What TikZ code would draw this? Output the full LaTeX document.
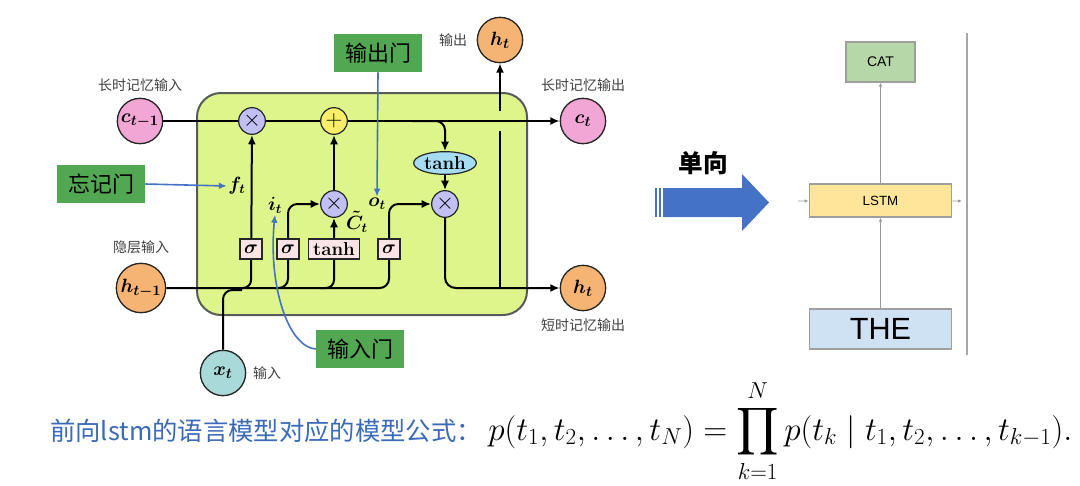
\documentclass[tikz,border=0pt]{standalone}
\usepackage{fontspec}
\usepackage{amsmath}
\newfontfamily\cjk{Noto Sans CJK SC}
\newfontfamily\arialf{Liberation Sans}
\usetikzlibrary{arrows.meta,shapes.geometric,backgrounds}
\definecolor{cellc}{HTML}{DDF58A}
\definecolor{cpink}{HTML}{F2A6D6}
\definecolor{horange}{HTML}{F5B474}
\definecolor{xteal}{HTML}{A9D9D9}
\definecolor{multc}{HTML}{C0C0F5}
\definecolor{plusc}{HTML}{F8EE6A}
\definecolor{tanhc}{HTML}{A5DCF2}
\definecolor{boxc}{HTML}{FBE4E6}
\definecolor{gatec}{HTML}{52A852}
\definecolor{bluec}{HTML}{4472C4}
\definecolor{bluet}{HTML}{3A6AB8}
\definecolor{catc}{HTML}{B6D7A8}
\definecolor{lstmc}{HTML}{FFE599}
\definecolor{thec}{HTML}{CFE2F3}
\begin{document}
\begin{tikzpicture}[x=0.75pt,y=-0.75pt,
  circ/.style={circle, draw=black!85, line width=1pt, minimum size=34pt, inner sep=0pt, font=\fontsize{15}{17}\selectfont\boldmath},
  op/.style={circle, draw=black!85, line width=0.9pt, minimum size=20pt, inner sep=0pt, fill=multc, font=\fontsize{16}{17}\selectfont},
  gatebox/.style={draw=black!85, fill=boxc, line width=0.8pt, minimum height=15pt, minimum width=16.5pt, inner sep=1pt, font=\fontsize{14}{15}\selectfont\bfseries\boldmath},
  wire/.style={line width=1.5pt, draw=black},
  wirea/.style={wire, -{Latex[length=7pt,width=6pt]}},
  cnlabel/.style={font=\cjk\fontsize{10.5}{12}\selectfont, text=black!75},
  gatelabel/.style={fill=gatec, minimum width=66pt, minimum height=28.5pt, inner sep=0pt, font=\cjk\fontsize{16.5}{18}\selectfont},
  blueline/.style={draw=bluec, line width=1.2pt, -{Latex[length=6pt,width=5pt]}},
  mlab/.style={inner sep=1pt, font=\fontsize{14}{16}\selectfont\boldmath},
  gline/.style={draw=gray!80, line width=0.6pt, -{Latex[length=3pt,width=2.5pt]}},
  rbox/.style={draw=gray!75, line width=0.8pt, inner sep=0pt}
]
\useasboundingbox (0,0) rectangle (1080,485);

% nodes of the cell
\node[circ, fill=cpink] (cprev) at (140,121) {$c_{t-1}$};
\node[circ, fill=cpink] (cnext) at (583,121) {$c_t$};
\node[circ, fill=horange, minimum size=37pt] (hprev) at (141,288) {$h_{t-1}$};
\node[circ, fill=horange] (hnext) at (583,288) {$h_t$};
\node[circ, fill=horange] (hout) at (500,40) {$h_t$};
\node[circ, fill=xteal] (xt) at (223,373) {$x_t$};

\node[op] (fmul) at (252,121) {$\times$};
\node[op, fill=plusc] (add) at (334,121) {$+$};
\node[op] (imul) at (334,204) {$\times$};
\node[op] (omul) at (445,204) {$\times$};
\node[ellipse, draw=black!85, line width=0.9pt, fill=tanhc, minimum width=47pt, minimum height=17pt, inner sep=0pt, font=\fontsize{14}{15}\selectfont\bfseries] (tanhe) at (445,163) {tanh};

\node[gatebox] (sf) at (251,249) {$\sigma$};
\node[gatebox] (si) at (288,249) {$\sigma$};
\node[gatebox, minimum width=38pt] (tc) at (334,249) {tanh};
\node[gatebox] (so) at (389,249) {$\sigma$};

\node[mlab] (ft) at (237,186) {$f_t$};
\node[mlab] (it) at (275,205) {$i_t$};
\node[mlab] (ot) at (377,204) {$o_t$};
\node[mlab] (ctl) at (357,222) {$\tilde{C}_t$};

% chinese labels
\node[cnlabel] (l1) at (140,85) {长时记忆输入};
\node[cnlabel] (l2) at (583,85) {长时记忆输出};
\node[cnlabel] (l3) at (141,247) {隐层输入};
\node[cnlabel] (l4) at (583,325) {短时记忆输出};
\node[cnlabel] (l5) at (267,373) {输入};
\node[cnlabel] (l6) at (453,40) {输出};

\node[gatelabel] (g1) at (101,184) {忘记门};
\node[gatelabel] (g2) at (378,53) {输出门};
\node[gatelabel] (g3) at (360,349) {输入门};

% junction coordinates
\coordinate (tbs) at (412,121);
\coordinate (jf) at (238,288);
\coordinate (ji) at (275,288);
\coordinate (jc) at (320,288);
\coordinate (jx) at (242,290);
\coordinate (vb) at (500,288);
\coordinate (vg1) at (500,131);
\coordinate (vg2) at (500,111);

\begin{scope}[on background layer]
\node[draw=gray!70!black, line width=1.5pt, fill=cellc, rounded corners=18pt, minimum width=247.5pt, minimum height=166.5pt] (cell) at (362,204) {};
\draw[wirea] (cprev) -- (cnext);
\draw[wirea, rounded corners=7pt] (tbs) -- (tanhe |- tbs) -- (tanhe);
\draw[wirea] (tanhe) -- (omul);
\draw[wirea, rounded corners=7pt] (hprev) -- (so |- hprev) -- (so |- omul) -- (omul);
\draw[wirea, rounded corners=6pt] (jf) -- (sf |- jf) -- (fmul);
\draw[wirea, rounded corners=7pt] (ji) -- (si |- ji) -- (si |- imul) -- (imul);
\draw[wirea, rounded corners=6pt] (jc) -- (tc |- jc) -- (imul);
\draw[wirea] (imul) -- (add);
\draw[wirea, rounded corners=8pt] (omul) -- (omul |- hnext) -- (hnext);
\draw[wire] (vb) -- (vg1);
\draw[wirea] (vg2) -- (hout);
\draw[wire, rounded corners=7pt] (xt) -- (xt |- jx) -- (jx);
\end{scope}

\draw[blueline] (g1.east) -- (ft.west);
\draw[blueline] (g2.south) -- (ot.north);
\draw[blueline] (g3.west) .. controls (288,347) and (268,285) .. (it.south);

% right panel
\fill[bluec] (663,188) -- (742,188) -- (742,174) -- (769,202.5) -- (742,231) -- (742,217) -- (663,217) -- cycle;
\fill[bluec] (655,188) rectangle (657,217);
\fill[bluec] (658.5,188) rectangle (661,217);
\node[font=\cjk\bfseries\fontsize{18.5}{20}\selectfont] (dx) at (703,163) {单向};

\node[rbox, fill=catc, minimum width=51.75pt, minimum height=30pt, font=\arialf\fontsize{10.5}{12}\selectfont] (cat) at (880.5,62) {CAT};
\node[rbox, fill=lstmc, minimum width=107pt, minimum height=24.75pt, font=\arialf\fontsize{10}{12}\selectfont] (lstm) at (880.5,200.5) {LSTM};
\node[rbox, fill=thec, minimum width=107pt, minimum height=30pt, font=\arialf\fontsize{23}{26}\selectfont] (the) at (880.5,329) {THE};
\coordinate (lin) at (798,201);
\coordinate (lout) at (962,201);
\coordinate (v1) at (967,33);
\coordinate (v2) at (967,355);
\draw[gline] (the) -- (lstm);
\draw[gline] (lstm) -- (cat);
\draw[gline] (lin) -- (lstm);
\draw[gline] (lstm) -- (lout);
\draw[draw=gray!70, line width=1.2pt] (v1) -- (v2);

% bottom formula
\node[anchor=base west, inner sep=0pt, text=bluet, font=\cjk\fontsize{19}{22}\selectfont] (cap) at (50,440) {前向lstm的语言模型对应的模型公式：};
\node[anchor=base west, inner sep=0pt, font=\fontsize{25.5}{28}\selectfont] (eq) at (488,440) {$\displaystyle p(t_1,t_2,\ldots,t_N)=\prod_{k=1}^{N}p(t_k\mid t_1,t_2,\ldots,t_{k-1}).$};
\end{tikzpicture}
\end{document}
